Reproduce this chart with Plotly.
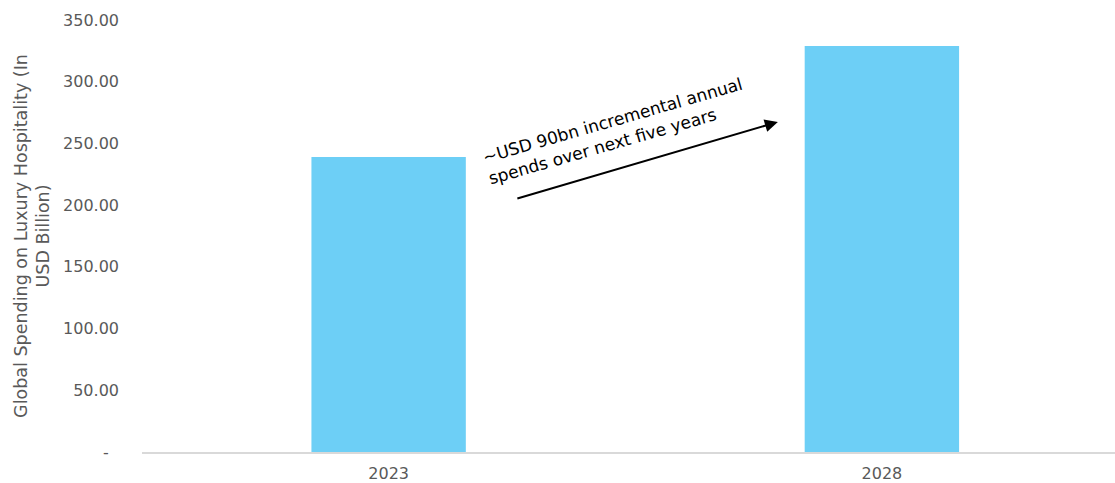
import plotly.graph_objects as go

# Data
years = ["2023", "2028"]
spending = [239, 329]
y_tickvals = [0, 50, 100, 150, 200, 250, 300, 350]
y_ticktext = ["-\u00a0\u00a0", "50.00", "100.00", "150.00", "200.00", "250.00", "300.00", "350.00"]

FONT = "DejaVu Sans, sans-serif"
GRAY = "#595959"

fig = go.Figure()
fig.add_trace(go.Bar(
    x=years,
    y=spending,
    marker=dict(color="#6DCFF6", line=dict(width=0)),
    width=0.313,
    hoverinfo="x+y",
))

# Arrow showing the growth between the two years
fig.add_annotation(
    xref="paper", yref="paper",
    x=0.6535, y=0.764,
    ax=-262, ay=77,
    showarrow=True,
    arrowhead=2, arrowsize=1.3, arrowwidth=2, arrowcolor="#000000",
    text="",
)
fig.add_annotation(
    xref="paper", yref="paper",
    x=0.487, y=0.742,
    xanchor="center", yanchor="middle",
    align="left",
    text="~USD 90bn incremental annual<br>spends over next five years",
    showarrow=False,
    textangle=-16,
    font=dict(family=FONT, size=17, color="#000000"),
)

fig.update_layout(
    width=1115, height=483,
    margin=dict(l=142, r=0, t=20, b=31),
    paper_bgcolor="white",
    plot_bgcolor="white",
    showlegend=False,
    font=dict(family=FONT, color=GRAY, size=16),
    xaxis=dict(
        type="category",
        range=[-0.5, 1.4726],
        showgrid=False,
        showline=True,
        linecolor="#D9D9D9",
        linewidth=2,
        ticks="",
        tickfont=dict(family=FONT, size=16, color=GRAY),
        ticklabelstandoff=6,
    ),
    yaxis=dict(
        range=[0, 350],
        tickvals=y_tickvals,
        ticktext=y_ticktext,
        showgrid=False,
        showline=False,
        zeroline=False,
        ticks="",
        tickfont=dict(family=FONT, size=16, color=GRAY),
        ticklabelstandoff=22,
        title=dict(
            text="Global Spending on Luxury Hospitality (In<br>USD Billion)",
            font=dict(family=FONT, size=17.5, color=GRAY),
            standoff=8,
        ),
    ),
)

fig.write_html("out.html")
